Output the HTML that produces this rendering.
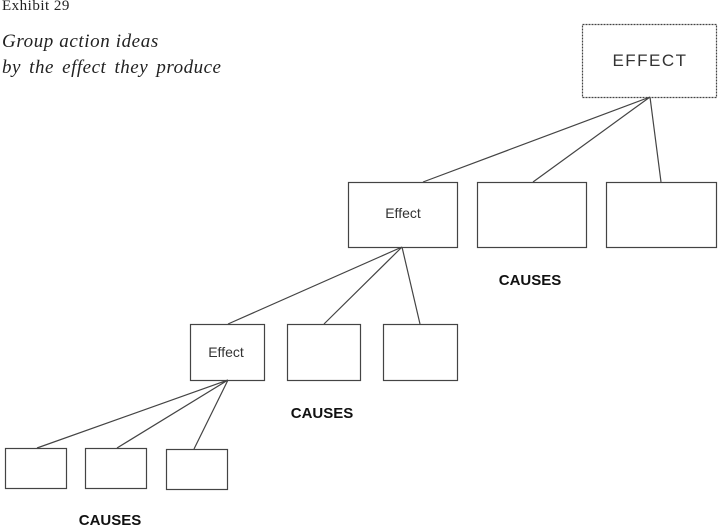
<!DOCTYPE html>
<html><head><style>
html,body{margin:0;padding:0;background:#fff;}
body{width:720px;height:528px;position:relative;overflow:hidden;}
.t{position:absolute;font-family:"Liberation Serif",serif;color:#222;white-space:nowrap;}
svg{position:absolute;left:0;top:0;}
</style></head><body>
<div class="t" style="left:2px;top:-2px;font-size:15px;letter-spacing:0.5px;">Exhibit 29</div>
<div class="t" style="left:2px;top:31px;font-size:19px;font-style:italic;letter-spacing:0.6px;">Group action ideas</div>
<div class="t" style="left:2px;top:57px;font-size:19px;font-style:italic;word-spacing:3px;letter-spacing:0.5px;">by the effect they produce</div>
<svg width="720" height="528" font-family="Liberation Sans, sans-serif">
<g fill="none" stroke="#444" stroke-width="1.2">
<rect x="582.5" y="24.5" width="134" height="73" stroke-dasharray="2,1"/>
<rect x="348.5" y="182.5" width="109" height="65"/>
<rect x="477.5" y="182.5" width="109" height="65"/>
<rect x="606.5" y="182.5" width="110" height="65"/>
<rect x="190.5" y="324.5" width="74" height="56"/>
<rect x="287.5" y="324.5" width="73" height="56"/>
<rect x="383.5" y="324.5" width="74" height="56"/>
<rect x="5.5" y="448.5" width="61" height="40"/>
<rect x="85.5" y="448.5" width="61" height="40"/>
<rect x="166.5" y="449.5" width="61" height="40"/>
<path d="M650 97L423 182M650 97L533 182M650 97L661 182"/>
<path d="M402 247L228 324M402 247L324 324M402 247L420 324"/>
<path d="M228 380L37 448M228 380L117 448M228 380L194 449"/>
</g>
<g fill="#333">
<text x="650" y="66" font-size="17" text-anchor="middle" letter-spacing="1.5">EFFECT</text>
<text x="403" y="218" font-size="14" text-anchor="middle">Effect</text>
<text x="226" y="357" font-size="14" text-anchor="middle">Effect</text>
</g>
<g fill="#111" font-weight="bold" font-size="15" text-anchor="middle">
<text x="530" y="285">CAUSES</text>
<text x="322" y="418">CAUSES</text>
<text x="110" y="525">CAUSES</text>
</g>
</svg>
</body></html>
